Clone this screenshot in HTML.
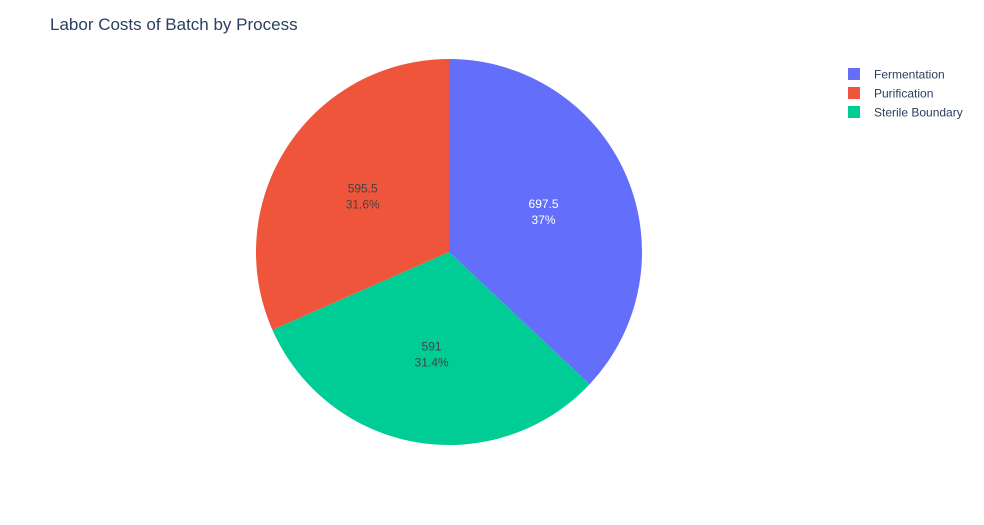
<!DOCTYPE html>
<html><head><meta charset="utf-8">
<style>
html,body{margin:0;padding:0;background:#fff;}
svg{display:block;font-family:"Liberation Sans",sans-serif;}
</style></head>
<body>
<svg id="chart" width="984" height="525" viewBox="0 0 984 525">
<text x="50" y="30" font-size="17" fill="#2a3f5f">Labor Costs of Batch by Process</text>
<g id="slices"></g>
<g id="labels"></g>
<g id="legend"></g>
</svg>
<script>
const categories = ["Fermentation", "Sterile Boundary", "Purification"];
const values = [697.5, 591, 595.5];
const percentLabels = ["37%", "31.4%", "31.6%"];
const legendOrder = ["Fermentation", "Purification", "Sterile Boundary"];
const colors = {"Fermentation":"#636efa","Purification":"#ef553b","Sterile Boundary":"#00cc96"};
const textColors = {"Fermentation":"#ffffff","Purification":"#444444","Sterile Boundary":"#444444"};

const NS = "http://www.w3.org/2000/svg";
const cx = 449, cy = 252, R = 193, labelR = 103;
const total = values.reduce((a,b)=>a+b,0);
function pt(angle, r){ return [cx + r*Math.sin(angle), cy - r*Math.cos(angle)]; }
const sg = document.getElementById('slices');
const lg = document.getElementById('labels');
let a0 = 0;
categories.forEach((c,i)=>{
  const frac = values[i]/total;
  const a1 = a0 + frac*2*Math.PI;
  const p0 = pt(a0,R), p1 = pt(a1,R);
  const large = (a1-a0) > Math.PI ? 1 : 0;
  const path = document.createElementNS(NS,'path');
  path.setAttribute('d',`M${cx},${cy} L${p0[0]},${p0[1]} A${R},${R} 0 ${large} 1 ${p1[0]},${p1[1]} Z`);
  path.setAttribute('fill',colors[c]);
  path.setAttribute('stroke','#fff');
  path.setAttribute('stroke-width','0');
  
  
  sg.appendChild(path);
  const am = (a0+a1)/2;
  const lp = pt(am, labelR);
  const t = document.createElementNS(NS,'text');
  t.setAttribute('x', lp[0]); t.setAttribute('y', lp[1]);
  t.setAttribute('text-anchor','middle');
  t.setAttribute('font-size','12');
  t.setAttribute('fill', textColors[c]);
  
  
  const s1 = document.createElementNS(NS,'tspan');
  s1.setAttribute('x', lp[0]); s1.setAttribute('dy','-3');
  s1.textContent = String(values[i]);
  const s2 = document.createElementNS(NS,'tspan');
  s2.setAttribute('x', lp[0]); s2.setAttribute('dy','16');
  s2.textContent = percentLabels[i];
  t.appendChild(s1); t.appendChild(s2);
  lg.appendChild(t);
  a0 = a1;
});
const leg = document.getElementById('legend');
legendOrder.forEach((c,i)=>{
  const y = 74 + i*19;
  const g = document.createElementNS(NS,'g');
  
  
  const r = document.createElementNS(NS,'rect');
  r.setAttribute('x',848); r.setAttribute('y',y-6); r.setAttribute('width',12); r.setAttribute('height',12);
  r.setAttribute('fill',colors[c]);
  const t = document.createElementNS(NS,'text');
  t.setAttribute('x',874); t.setAttribute('y',y+4.5);
  t.setAttribute('font-size','12'); t.setAttribute('fill','#2a3f5f');
  t.textContent = c;
  g.appendChild(r); g.appendChild(t);
  leg.appendChild(g);
});
</script>
</body></html>
